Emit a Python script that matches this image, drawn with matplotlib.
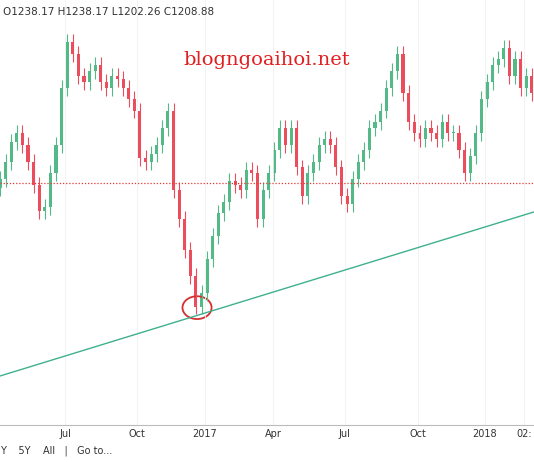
import matplotlib
matplotlib.use("Agg")
import matplotlib.pyplot as plt
from matplotlib.patches import Ellipse

closes = [1240,1255,1272,1280,1270,1255,1235,1212,1215,1245,1270,1320,1360,1350,1330,1325,
          1335,1340,1325,1320,1330,1328,1320,1310,1300,1258,1255,1262,1270,1285,1300,1230,
          1205,1178,1155,1128,1140,1170,1190,1210,1220,1238,1235,1230,1248,1245,1205,1230,
          1245,1265,1285,1270,1285,1250,1225,1245,1255,1270,1275,1270,1250,1225,1218,1240,
          1255,1265,1285,1290,1300,1320,1335,1350,1315,1290,1280,1275,1285,1280,1275,1290,
          1280,1280,1265,1245,1260,1280,1310,1325,1340,1345,1355,1330,1345,1320,1330,1315]
first_open = 1232
tick_pos = [11.6, 24.5, 36.6, 48.8, 61.6, 74.6, 86.6, 93.6]
tick_labels = ["Jul", "Oct", "2017", "Apr", "Jul", "Oct", "2018", "02:"]
hline_price = 1236
trend = [(0, 1067), (95.4, 1211)]

fig = plt.figure(figsize=(5.34, 4.62), dpi=100)
ax = fig.add_axes([0, 37/462, 1, 425/462])
up, dn = "#53b987", "#eb4d5c"
opens = [first_open] + closes[:-1]
for i, (o, c) in enumerate(zip(opens, closes)):
    col = up if c >= o else dn
    hi = max(o, c) + 7
    lo = min(o, c) - 7
    ax.vlines(i, lo, hi, color=col, lw=0.8)
    ax.bar(i, max(abs(c - o), 0.8), bottom=min(o, c), width=0.55, color=col)
ax.axhline(hline_price, color="#e53935", lw=0.9, ls=(0, (1, 1.5)))
ax.plot([p[0] for p in trend], [p[1] for p in trend], color="#3fb08f", lw=1)
ax.add_patch(Ellipse((35.2, 1127), 5.2, 20, fill=False, ec="#d32f2f", lw=1.3))
ax.set_xlim(0, 95.4)
ax.set_ylim(1024, 1397)
ax.set_xticks(tick_pos)
ax.set_xticklabels(tick_labels)
ax.tick_params(axis="x", length=0, labelsize=7, colors="#333333", pad=3)
ax.set_yticks([])
ax.grid(axis="x", color="#f0f0f0", lw=0.6)
for s in ["left", "right", "top"]:
    ax.spines[s].set_visible(False)
ax.spines["bottom"].set_color("#bbbbbb")
fig.text(0.005, 0.985, "O1238.17 H1238.17 L1202.26 C1208.88", fontsize=7.5, color="#333333", va="top")
fig.text(0.5, 0.86, "blogngoaihoi.net", fontsize=14, color="#e02020", family="DejaVu Serif", ha="center")
fig.text(0.0, 0.018, "Y    5Y    All   |   Go to...", fontsize=7, color="#333333")
fig.savefig("out.png", dpi=100)
